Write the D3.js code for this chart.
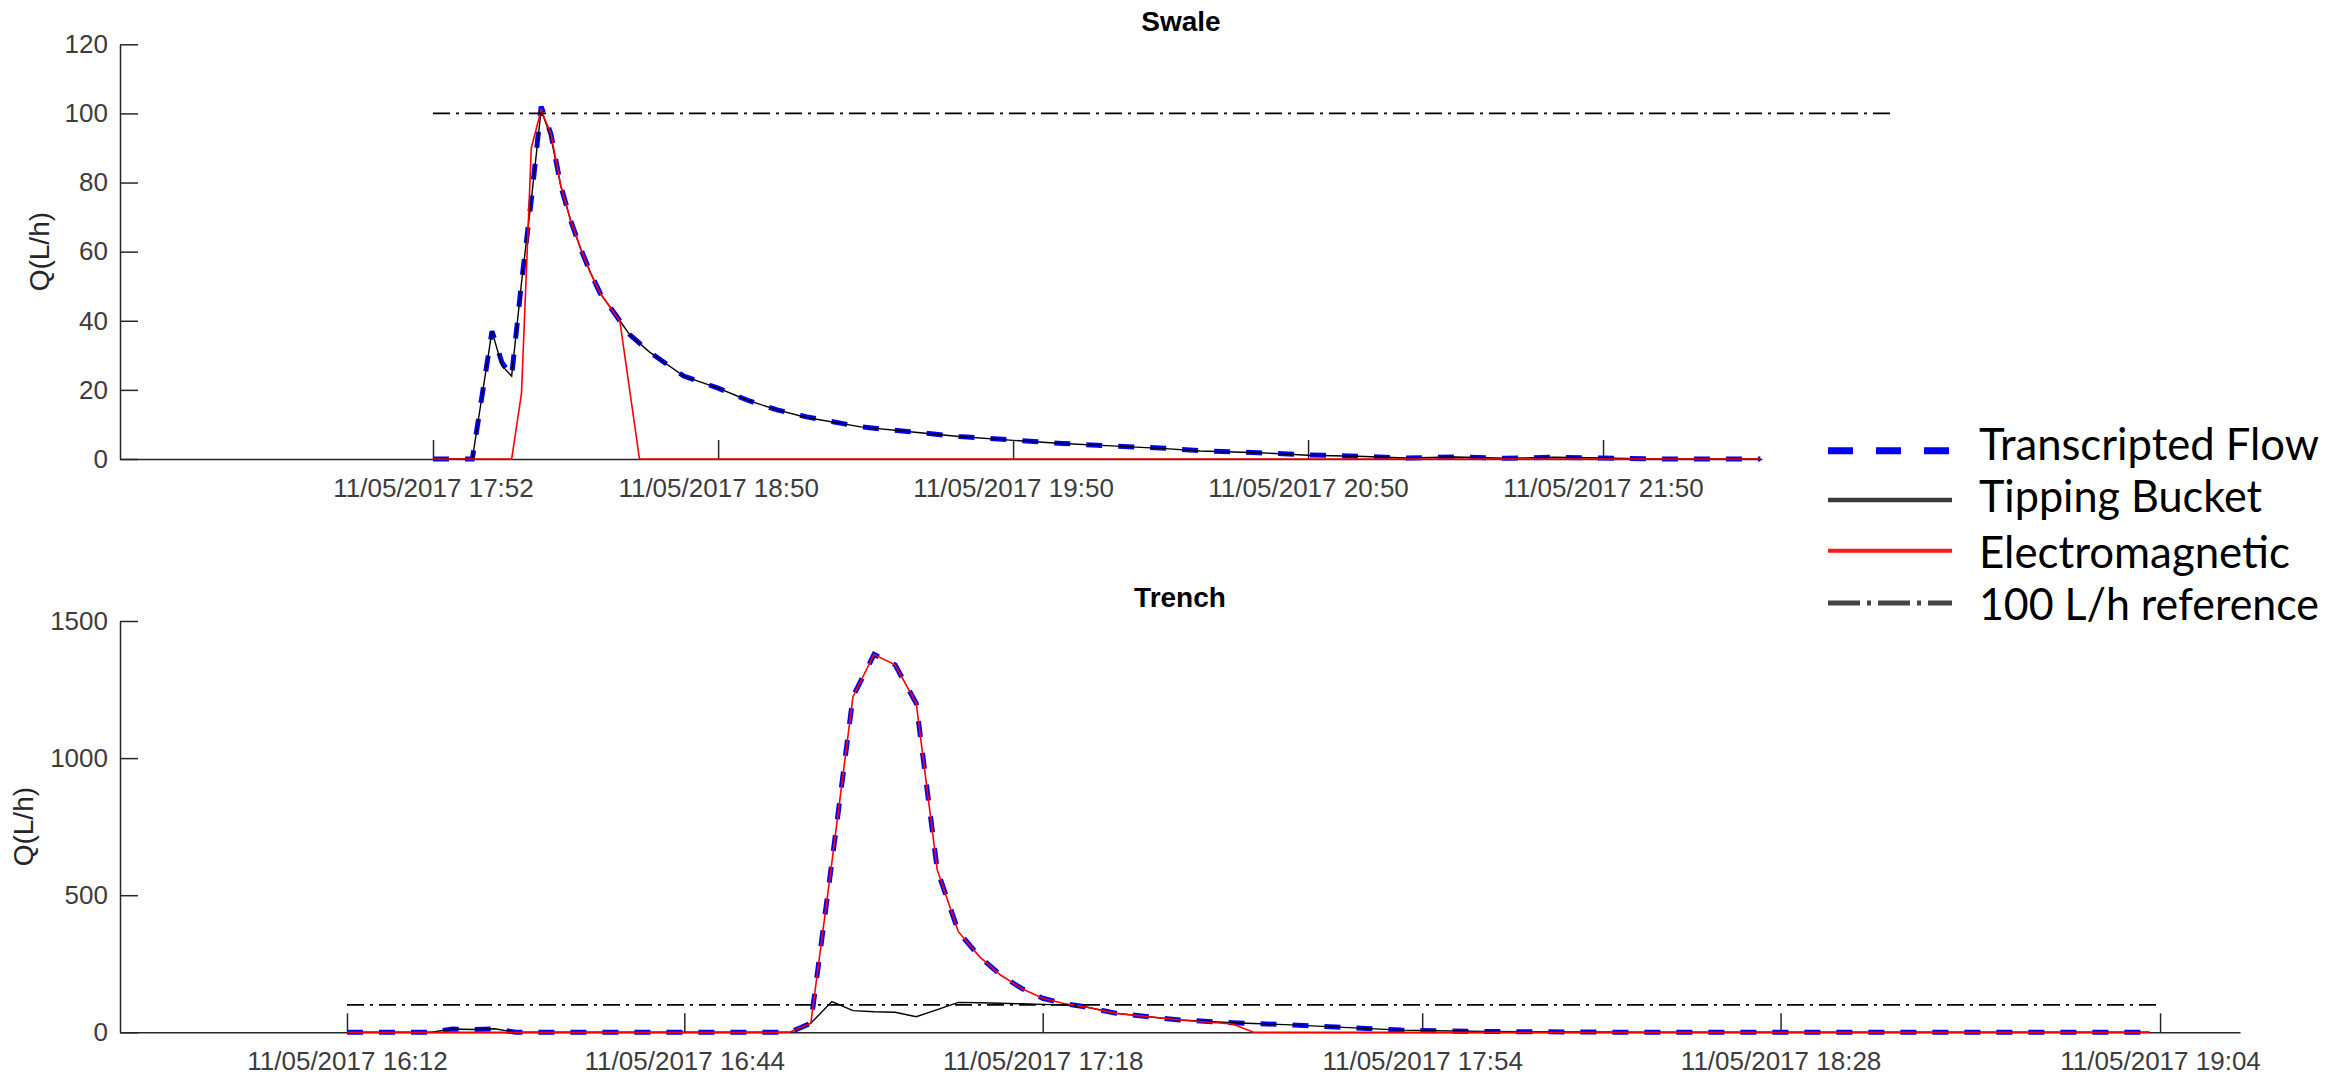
<!DOCTYPE html>
<html>
<head>
<meta charset="utf-8" />
<title>Swale / Trench flow</title>
<script src="https://cdn.jsdelivr.net/npm/d3@7"></script>
<style>
  body { margin: 0; background: #fff; }
  .axis path, .axis line { stroke: #262626; stroke-width: 1.5; }
  .axis text { fill: #3c3c3c; font-family: "Liberation Sans", Arial, sans-serif; font-size: 26px; }
</style>
</head>
<body>
<svg id="chart" width="2349" height="1078"></svg>
<script>
// ---- Swale (top panel) ----
var swaleTime = ["17:52","18:00","18:04","18:06","18:08","18:10","18:12","18:14",
  "18:16","18:18","18:20","18:22","18:24","18:26","18:28","18:30",
  "18:32","18:34","18:36","18:39","18:43",
  "18:50","18:56","19:02","19:08","19:19","19:29","19:39","19:50","20:00","20:10","20:21","20:28",
  "20:40","20:50","21:00","21:10","21:20","21:30","21:40","21:50","22:00","22:10","22:22"];
var swaleFlow = [0,0,37,28,24,51,75,102,
  94,79,69,61,54,48,44,40,
  36,33.5,31,28,24,
  20.5,17,14.2,12.2,9.3,7.9,6.5,5.5,4.5,3.8,3.1,2.4,
  1.8,1.2,0.8,0.3,0.6,0.2,0.5,0.3,0,0,0];
var swaleBucket = [0,0,37,27,24,51,75,101,
  93,79,69,61,54,48,44,40,
  36,33.5,31,28,24,
  20.5,17,14.2,12,9.3,7.9,6.5,5.4,4.5,3.8,3,2.3,
  1.8,1.1,0.8,0.3,0.6,0.2,0.5,0.3,0,0,0];
var swaleEM = [0,0,0,0,0,19,90,101,
  94,79,69,61,54,48,44,40,
  20,0,0,0,0,
  0,0,0,0,0,0,0,0,0,0,0,0,
  0,0,0,0,0,0,0,0,0,0,0];
var swaleRefTime = ["17:52","22:49"];
var swaleDomain = ["16:48:20","22:22:20"];
var swaleXTicks = ["17:52","18:50","19:50","20:50","21:50"];
var swaleYTicks = [0,20,40,60,80,100,120];

// ---- Trench (bottom panel) ----
var trenchTime = ["16:12","16:20","16:22","16:24","16:26","16:28",
  "16:54","16:56","16:58","17:00","17:02","17:04","17:06","17:08","17:10","17:12",
  "17:14","17:16","17:18","17:20","17:22","17:25","17:31","17:36","17:38","17:41",
  "17:47","17:52","18:00","18:15","18:30","19:03"];
var trenchFlow = [0,0,12,10,13,0,
  0,33,620,1224,1378,1340,1200,592,367,276,
  209,160,124,105,93,69,45,35,32,28,
  17,8,3,0,0,0];
var trenchBucket = [0,0,12,10,13,0,
  0,33,112,79,75,73,57,83,109,108,
  106,104,102,100,93,69,45,35,32,28,
  17,8,3,0,0,0];
var trenchEM = [0,0,0,0,0,0,
  0,33,620,1224,1378,1340,1200,592,367,276,
  209,160,124,105,93,69,45,30,0,0,
  0,0,0,0,0,0];
var trenchRefTime = ["16:12","19:04"];
var trenchDomain = ["15:50:28","19:11:35"];
var trenchXTicks = ["16:12","16:44","17:18","17:54","18:28","19:04"];
var trenchYTicks = [0,500,1000,1500];

var refValue = 100;
var legendNames = ["Transcripted Flow","Tipping Bucket","Electromagnetic","100 L/h reference"];

var parseFull = d3.timeParse("%Y-%m-%d %H:%M:%S");
function toDate(s) {
  if (s.length == 5) s = s + ":00";
  return parseFull("2017-05-11 " + s);
}
var fmt = d3.timeFormat("%d/%m/%Y %H:%M");

var svg = d3.select("#chart");

function drawPanel(p) {
  var x = d3.scaleTime().domain(p.domain.map(toDate)).range([120, p.right]);
  var y = d3.scaleLinear().domain([0, p.ymax]).range([p.bottom, p.top]);
  var g = svg.append("g");

  var line = d3.line()
    .x(function (d) { return x(d.t); })
    .y(function (d) { return y(d.v); });
  function pts(times, vals) {
    return times.map(function (t, i) { return { t: toDate(t), v: vals[i] }; });
  }

  // x axis (ticks point inward)
  g.append("g").attr("class", "axis")
    .attr("transform", "translate(0," + p.bottom + ")")
    .call(d3.axisBottom(x).tickValues(p.xticks.map(toDate)).tickFormat(fmt)
      .tickSize(-19).tickSizeOuter(0).tickPadding(19.5));
  // y axis
  g.append("g").attr("class", "axis")
    .attr("transform", "translate(120,0)")
    .call(d3.axisLeft(y).tickValues(p.yticks).tickFormat(d3.format("d"))
      .tickSize(-18).tickSizeOuter(0).tickPadding(12));
  g.selectAll(".axis text").attr("stroke", "none");

  g.append("path").datum(pts(p.time, p.flow)).attr("d", line)
    .attr("fill", "none").attr("stroke", "#0000ff").attr("stroke-width", 5)
    .attr("stroke-dasharray", "16,16");
  g.append("path").datum(pts(p.time, p.bucket)).attr("d", line)
    .attr("fill", "none").attr("stroke", "#000").attr("stroke-width", 1.4);
  g.append("path").datum(pts(p.time, p.em)).attr("d", line)
    .attr("fill", "none").attr("stroke", "#ff0000").attr("stroke-width", 1.6);
  g.append("path").datum(pts(p.refTime, [refValue, refValue])).attr("d", line)
    .attr("fill", "none").attr("stroke", "#000").attr("stroke-width", 1.8)
    .attr("stroke-dasharray", "17,6,3,6");

  // title
  g.append("text").attr("x", p.titleX).attr("y", p.titleY)
    .attr("text-anchor", "middle")
    .style("font-family", "'Liberation Sans', Arial, sans-serif")
    .style("font-weight", "bold").style("font-size", "28px")
    .text(p.title);
  // y label
  g.append("text")
    .attr("transform", "translate(" + p.ylabelX + "," + (p.top + p.bottom) / 2 + ") rotate(-90)")
    .attr("text-anchor", "middle")
    .style("font-family", "'Liberation Sans', Arial, sans-serif")
    .style("font-size", "28px").attr("fill", "#262626")
    .text("Q(L/h)");
}

drawPanel({
  title: "Swale", titleX: 1181, titleY: 31,
  time: swaleTime, flow: swaleFlow, bucket: swaleBucket, em: swaleEM,
  refTime: swaleRefTime, domain: swaleDomain, xticks: swaleXTicks, yticks: swaleYTicks,
  ymax: 120, top: 44.3, bottom: 459, right: 1762, ylabelX: 49
});
drawPanel({
  title: "Trench", titleX: 1180, titleY: 607,
  time: trenchTime, flow: trenchFlow, bucket: trenchBucket, em: trenchEM,
  refTime: trenchRefTime, domain: trenchDomain, xticks: trenchXTicks, yticks: trenchYTicks,
  ymax: 1500, top: 621, bottom: 1032.3, right: 2240, ylabelX: 33
});

// legend (drawn bigger, pasted next to the panels)
var legStyles = [
  { stroke: "#0000ff", width: 7, dash: "25,23" },
  { stroke: "#3a3a3a", width: 4.5, dash: null },
  { stroke: "#ff1a1a", width: 4, dash: null },
  { stroke: "#444", width: 5, dash: "32,7,4,7" }
];
var legLineY = [450.7, 500, 550.7, 603];
var legTextY = [460, 511.7, 568, 620];
var legTextW = [340, 283, 311, 340];
var leg = svg.append("g");
legendNames.forEach(function (name, i) {
  var s = legStyles[i];
  var ln = leg.append("line").attr("x1", 1828).attr("x2", 1952)
    .attr("y1", legLineY[i]).attr("y2", legLineY[i])
    .attr("stroke", s.stroke).attr("stroke-width", s.width);
  if (s.dash) ln.attr("stroke-dasharray", s.dash);
  leg.append("text").attr("x", 1979).attr("y", legTextY[i])
    .attr("textLength", legTextW[i]).attr("lengthAdjust", "spacingAndGlyphs")
    .style("font-family", "Lato, 'Open Sans', sans-serif").style("font-size", "44px")
    .attr("fill", "#000").text(name);
});
</script>
</body>
</html>
